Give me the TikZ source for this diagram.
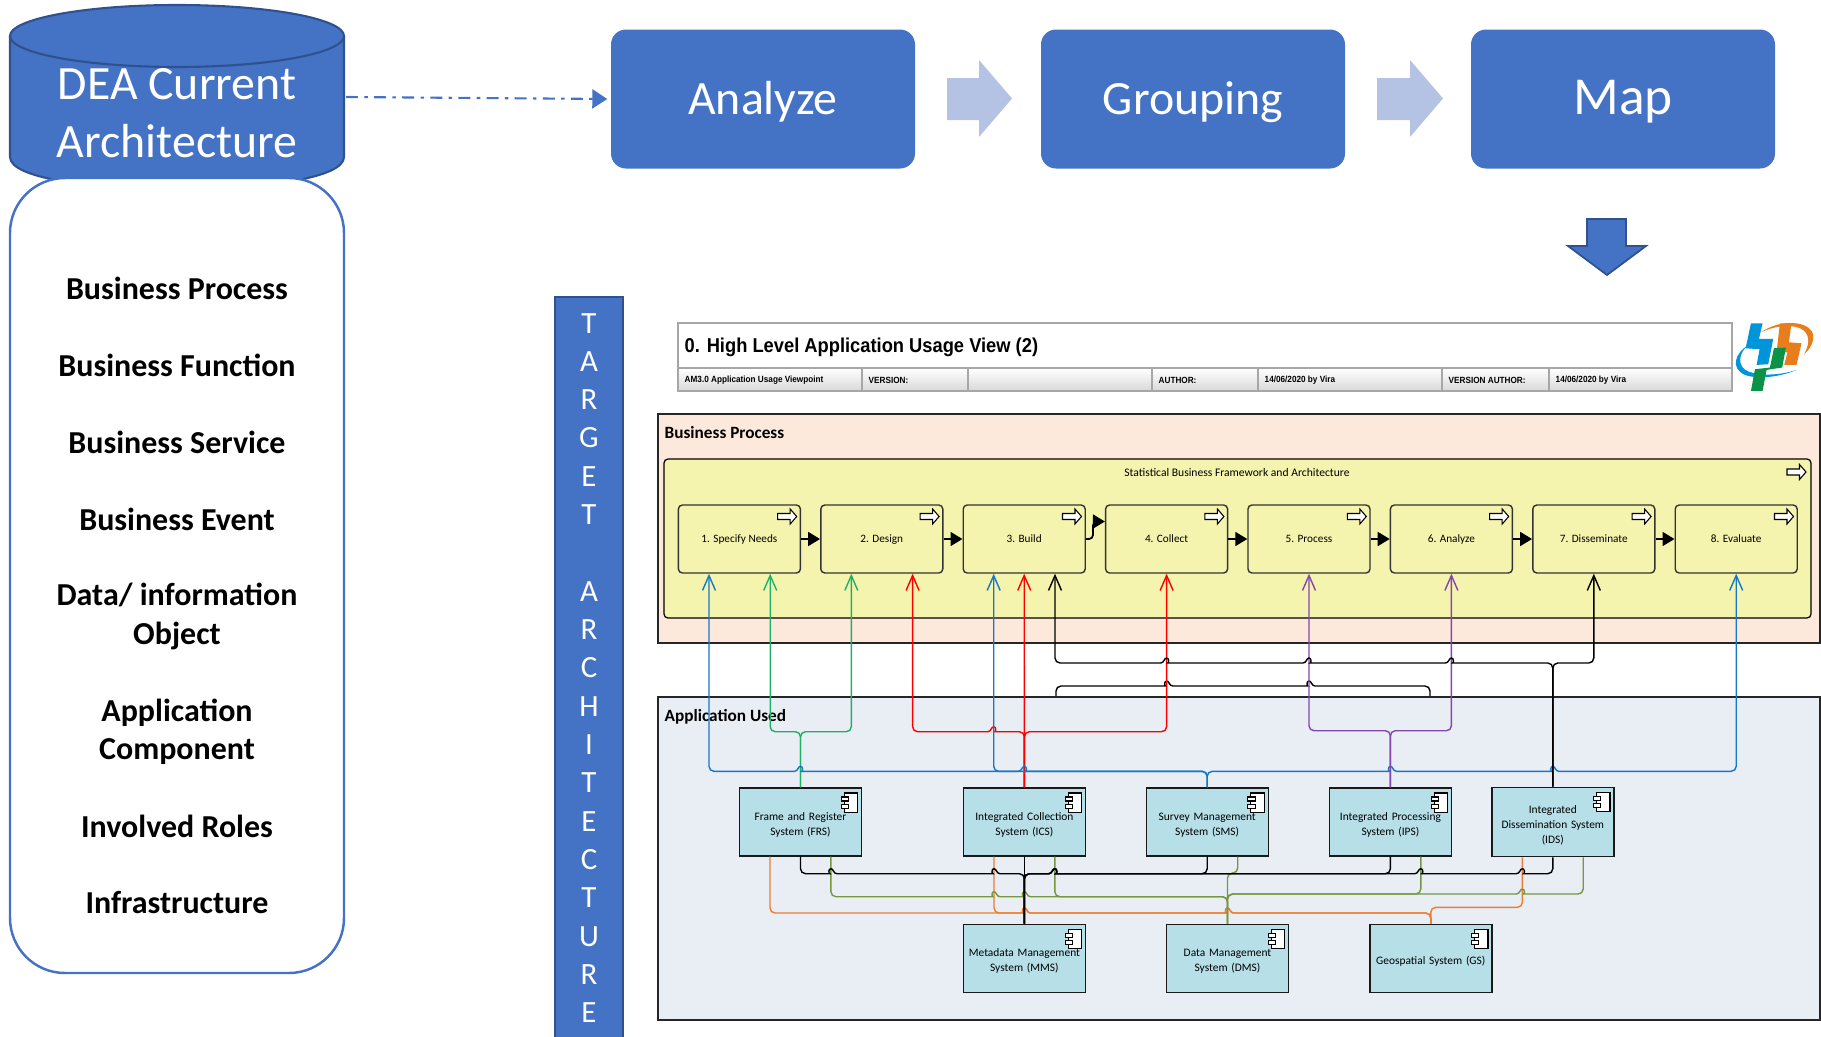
\documentclass[tikz,border=0pt]{standalone}
\usepackage{fontspec}
\setmainfont{Carlito}
\newfontfamily\headfont[FakeStretch=0.914]{Liberation Sans}
\usetikzlibrary{arrows.meta}

\definecolor{officeblue}{HTML}{4472C4}
\definecolor{officedark}{HTML}{2F528F}
\definecolor{softblue}{HTML}{B4C2E4}
\definecolor{bizpeach}{HTML}{FCE9DC}
\definecolor{appgrey}{HTML}{E9EDF4}
\definecolor{stepyellow}{HTML}{F5F4AE}
\definecolor{appcyan}{HTML}{B7DFE8}
\definecolor{headgrey}{HTML}{A6A6A6}
\definecolor{linkblue}{HTML}{1478C8}
\definecolor{linkgreen}{HTML}{1FB068}
\definecolor{linkpurple}{HTML}{8445AE}
\definecolor{linkorange}{HTML}{ED7D31}
\definecolor{linkolive}{HTML}{76963F}
\definecolor{logoblue}{HTML}{0095DA}
\definecolor{logoorange}{HTML}{E87D1E}
\definecolor{logogreen}{HTML}{0A9348}

\newcommand{\fsize}[2]{\fontsize{#1}{#2}\selectfont}
\newcommand{\linehop}[2]{-- (#1-0.06, #2) [sharp corners] .. controls (#1-0.025, #2) and (#1-0.025, #2-0.05) .. (#1, #2-0.05) .. controls (#1+0.025, #2-0.05) and (#1+0.025, #2) .. (#1+0.06, #2) [rounded corners=0.05cm]}
\newcommand{\lefthop}[2]{-- (#1+0.06, #2) [sharp corners] .. controls (#1+0.025, #2) and (#1+0.025, #2-0.05) .. (#1, #2-0.05) .. controls (#1-0.025, #2-0.05) and (#1-0.025, #2) .. (#1-0.06, #2) [rounded corners=0.05cm]}

\tikzset{
    bigbox/.style={draw=none, fill=officeblue, rounded corners=0.15cm, minimum width=3.04cm, minimum height=1.39cm, text=white, text height=0.36cm, text depth=0.05cm, font=\fsize{13.6}{16}},
    softarrow/.style={fill=softblue},
    layertext/.style={align=center, font=\bfseries\fsize{9.1}{10.9}},
    panel/.style={draw=black!85, line width=0.35pt, minimum width=11.62cm},
    paneltext/.style={anchor=west, inner sep=0pt, font=\bfseries\fsize{4.9}{6}},
    frame/.style={draw=black, line width=0.35pt, fill=stepyellow, rounded corners=0.04cm, minimum width=11.47cm, minimum height=1.59cm},
    stepbox/.style={draw=black!80, line width=0.4pt, fill=stepyellow, rounded corners=0.04cm, minimum width=1.22cm, minimum height=0.68cm, text depth=0pt, font=\fsize{3.2}{4.3}},
    appbox/.style={draw=black!90, line width=0.4pt, fill=appcyan, inner xsep=0pt, text width=1.22cm, minimum height=0.68cm, align=center, execute at begin node={\rule{0pt}{4pt}}, font=\fsize{3.25}{4.3}},
    headcell/.style={draw=headgrey, line width=0.5pt, top color=white, bottom color=black!15},
    headtext/.style={anchor=west, inner sep=0pt, font=\headfont\bfseries\fsize{2.55}{3}},
    flow/.style={draw=black, line width=0.5pt, -{Triangle[length=0.12cm, width=0.14cm]}},
    link/.style={line width=0.4pt, rounded corners=0.05cm},
    usedby/.style={link, -{Straight Barb[length=0.15cm, width=0.13cm]}},
    pics/procicon/.style={code={
        \draw[fill=white, line width=0.3pt] (-0.095, -0.03) -- (0.03, -0.03) -- (0.03, -0.075) -- (0.095, 0) -- (0.03, 0.075) -- (0.03, 0.03) -- (-0.095, 0.03) -- cycle;
    }},
    pics/compicon/.style={code={
        \draw[fill=white, line width=0.3pt] (-0.18, 0.057) rectangle (-0.045, 0.25);
        \draw[fill=white, line width=0.3pt] (-0.21, 0.097) rectangle (-0.138, 0.137);
        \draw[fill=white, line width=0.3pt] (-0.21, 0.17) rectangle (-0.138, 0.213);
    }},
}

\begin{document}
\begin{tikzpicture}[y=-1cm]
            \path[use as bounding box] (0, 0) rectangle (18.21, 10.36);
            \clip (0, 0) rectangle (18.21, 10.36);

            \draw[fill=officeblue, draw=officedark, line width=0.6pt] (0.10, 0.36) -- (0.10, 1.57) .. controls (0.10, 2.00) and (3.44, 2.00) .. (3.44, 1.57) -- (3.44, 0.36);
            \draw[fill=officeblue, draw=officedark, line width=0.6pt] (1.77, 0.36) ellipse (1.67 and 0.31);
            \node[text=white, align=center, font=\fsize{13.6}{16.5}] (deatext) at (1.77, 1.135) {DEA Current\\Architecture};
            \coordinate (deaside) at (3.46, 0.97);

            \node[draw=officeblue, line width=0.7pt, fill=white, rounded corners=0.55cm, minimum width=3.34cm, minimum height=7.95cm] (layerlist) at (1.77, 5.755) {};
            \node[layertext] (bizprocess) at (1.77, 2.88) {Business Process};
            \node[layertext] (bizfunction) at (1.77, 3.65) {Business Function};
            \node[layertext] (bizservice) at (1.77, 4.42) {Business Service};
            \node[layertext] (bizevent) at (1.77, 5.19) {Business Event};
            \node[layertext] (dataobject) at (1.77, 6.165) {Data/ information\\Object};
            \node[layertext] (appcomponent) at (1.77, 7.32) {Application\\Component};
            \node[layertext] (roles) at (1.77, 8.26) {Involved Roles};
            \node[layertext] (infra) at (1.77, 9.025) {Infrastructure};

            \node[bigbox] (analyze) at (7.63, 0.99) {Analyze};
            \node[bigbox] (grouping) at (11.93, 0.99) {Grouping};
            \node[bigbox, font=\fsize{15.2}{18}] (map) at (16.23, 0.99) {Map};
            \draw[draw=officeblue, line width=0.6pt, dash pattern=on 3.4pt off 1.8pt on 1pt off 1.8pt, -{Triangle[length=0.15cm, width=0.19cm]}] (deaside) -- ([xshift=-0.03cm]analyze.west);

            \path[softarrow] (9.47, 0.78) -- (9.79, 0.78) -- (9.79, 0.60) -- (10.12, 0.985) -- (9.79, 1.37) -- (9.79, 1.20) -- (9.47, 1.20) -- cycle;
            \path[softarrow] (13.77, 0.78) -- (14.10, 0.78) -- (14.10, 0.60) -- (14.43, 0.985) -- (14.10, 1.37) -- (14.10, 1.20) -- (13.77, 1.20) -- cycle;
            \draw[fill=officeblue, draw=officedark, line width=0.5pt] (15.87, 2.19) -- (16.26, 2.19) -- (16.26, 2.46) -- (16.46, 2.46) -- (16.07, 2.75) -- (15.68, 2.46) -- (15.87, 2.46) -- cycle;

            \draw[fill=officeblue, draw=officedark, line width=0.8pt] (5.55, 10.50) -- (5.55, 2.97) -- (6.23, 2.97) -- (6.23, 10.50);
            \node[anchor=north, text=white, align=center, inner sep=0pt, font=\fsize{8.8}{10.9}] (targettext) at (5.89, 3.125) {T\\A\\R\\G\\E\\T\\~\\A\\R\\C\\H\\I\\T\\E\\C\\T\\U\\R\\E};

            \draw[draw=headgrey, line width=0.5pt, fill=white] (6.78, 3.23) rectangle (17.32, 3.68);
            \node[anchor=west, inner sep=0pt, font=\headfont\bfseries\fsize{5.7}{7}] (headtitle) at (6.84, 3.47) {0. High Level Application Usage View (2)};
            \path[headcell] (6.78, 3.68) rectangle (8.62, 3.91);
            \path[headcell] (8.62, 3.68) rectangle (9.68, 3.91);
            \path[headcell] (9.68, 3.68) rectangle (11.52, 3.91);
            \path[headcell] (11.52, 3.68) rectangle (12.58, 3.91);
            \path[headcell] (12.58, 3.68) rectangle (14.42, 3.91);
            \path[headcell] (14.42, 3.68) rectangle (15.49, 3.91);
            \path[headcell] (15.49, 3.68) rectangle (17.32, 3.91);
            \node[headtext] (headview) at (6.84, 3.80) {AM3.0 Application Usage Viewpoint};
            \node[headtext] (headversion) at (8.68, 3.80) {VERSION:};
            \node[headtext] (headauthor) at (11.58, 3.80) {AUTHOR:};
            \node[headtext] (headdate) at (12.64, 3.80) {14/06/2020 by Vira};
            \node[headtext] (headvauthor) at (14.48, 3.80) {VERSION AUTHOR:};
            \node[headtext] (headvdate) at (15.55, 3.80) {14/06/2020 by Vira};

            \begin{scope}[shift={(17.25, 3.15)}, x=0.00333cm, y=-0.00333cm]
                \fill[logoblue] (70, 90) .. controls (30, 115) and (15, 160) .. (60, 180) .. controls (100, 195) and (170, 185) .. (215, 165) .. controls (170, 180) and (110, 185) .. (70, 170) .. controls (35, 155) and (40, 115) .. (70, 90) -- cycle;
                \fill[logoorange] (108, 52) .. controls (160, 15) and (240, 15) .. (262, 50) .. controls (272, 75) and (258, 100) .. (238, 118) .. controls (252, 90) and (258, 65) .. (235, 45) .. controls (205, 25) and (150, 32) .. (108, 52) -- cycle;
                \fill[logoblue] (78, 25) -- (113, 25) -- (102, 72) -- (145, 72) -- (130, 148) -- (95, 150) -- (104, 103) -- (62, 100) -- cycle;
                \fill[logoorange] (165, 25) -- (200, 25) -- (192, 82) -- (230, 85) -- (215, 150) -- (178, 150) -- (188, 112) -- (155, 112) -- cycle;
                \fill[logogreen] (147, 100) -- (183, 98) -- (172, 158) -- (125, 165) -- (113, 228) -- (78, 228) -- (90, 163) -- (135, 158) -- cycle;
            \end{scope}

            \coordinate (hopleft) at (10.56, 6.97);
            \coordinate (hopright) at (14.30, 6.97);
            \draw[link] (hopleft) -- (10.56, 6.86) \linehop{11.667}{6.86} \linehop{13.09}{6.86} -- (14.30, 6.86) -- (hopright);

            \node[panel, fill=bizpeach, minimum height=2.29cm] (bizpanel) at (12.39, 5.285) {};
            \node[panel, fill=appgrey, minimum height=3.23cm] (apppanel) at (12.39, 8.585) {};
            \node[paneltext] (biztitle) at (6.64, 4.33) {Business Process};
            \node[paneltext] (apptitle) at (6.64, 7.17) {Application Used};

            \node[frame] (sbfa) at (12.375, 5.385) {};
            \node[font=\fsize{3.3}{4.3}] (sbfatitle) at (12.37, 4.725) {Statistical Business Framework and Architecture};
            \pic at (17.965, 4.72) {procicon};

            \node[stepbox] (specify) at (7.394, 5.39) {1. Specify Needs};
            \node[stepbox] (design) at (8.818, 5.39) {2. Design};
            \node[stepbox] (build) at (10.242, 5.39) {3. Build};
            \node[stepbox] (collect) at (11.666, 5.39) {4. Collect};
            \node[stepbox] (process) at (13.09, 5.39) {5. Process};
            \node[stepbox] (analyse) at (14.514, 5.39) {6. Analyze};
            \node[stepbox] (disseminate) at (15.938, 5.39) {7. Disseminate};
            \node[stepbox] (evaluate) at (17.362, 5.39) {8. Evaluate};
            \pic at (7.872, 5.165) {procicon};
            \pic at (9.296, 5.165) {procicon};
            \pic at (10.72, 5.165) {procicon};
            \pic at (12.144, 5.165) {procicon};
            \pic at (13.568, 5.165) {procicon};
            \pic at (14.992, 5.165) {procicon};
            \pic at (16.416, 5.165) {procicon};
            \pic at (17.84, 5.165) {procicon};

            \draw[flow] (specify) -- (design);
            \draw[flow] (design) -- (build);
            \draw[flow, rounded corners=0.04cm] (build.east) -- (10.93, 5.39) -- (10.93, 5.215) -- (collect.west |- 0, 5.215);
            \draw[flow] (collect) -- (process);
            \draw[flow] (process) -- (analyse);
            \draw[flow] (analyse) -- (disseminate);
            \draw[flow] (disseminate) -- (evaluate);

            \node[appbox] (frs) at (8.005, 8.22) {Frame and Register\\System (FRS)};
            \node[appbox] (ics) at (10.244, 8.22) {Integrated Collection\\System (ICS)};
            \node[appbox] (sms) at (12.072, 8.22) {Survey Management\\System (SMS)};
            \node[appbox] (ips) at (13.904, 8.22) {Integrated Processing\\System (IPS)};
            \node[appbox] (ids) at (15.528, 8.22) {Integrated\\Dissemination System\\(IDS)};
            \node[appbox] (mms) at (10.244, 9.583) {Metadata Management\\System (MMS)};
            \node[appbox] (dms) at (12.275, 9.583) {Data Management\\System (DMS)};
            \node[appbox] (gs) at (14.308, 9.583) {Geospatial System (GS)};
            \pic at (frs.north east) {compicon};
            \pic at (ics.north east) {compicon};
            \pic at (sms.north east) {compicon};
            \pic at (ips.north east) {compicon};
            \pic at (ids.north east) {compicon};
            \pic at (mms.north east) {compicon};
            \pic at (dms.north east) {compicon};
            \pic at (gs.north east) {compicon};

            \draw[usedby, linkgreen] (frs.north) -- (8.005, 7.317) -- (7.702, 7.317) -- ([xshift=0.308cm]specify.south);
            \draw[usedby, linkgreen] (frs.north) -- (8.005, 7.317) -- (8.513, 7.317) -- ([xshift=-0.305cm]design.south);
            \draw[usedby, red] (ics.north) -- (10.244, 7.317) \lefthop{9.937}{7.317} -- (9.126, 7.317) -- ([xshift=0.308cm]design.south);
            \draw[usedby, red] (ics.north) -- (build.south);
            \draw[usedby, red] (ics.north) -- (10.244, 7.317) -- (11.666, 7.317) -- (collect.south);
            \draw[usedby, linkblue] (sms.north) -- (12.072, 7.713) \lefthop{10.244}{7.713} \lefthop{8.005}{7.713} -- (7.09, 7.713) -- ([xshift=-0.304cm]specify.south);
            \draw[usedby, linkblue] (sms.north) -- (12.072, 7.713) -- (9.937, 7.713) -- ([xshift=-0.305cm]build.south);
            \draw[usedby, linkblue] (sms.north) -- (12.072, 7.713) \linehop{13.904}{7.713} \linehop{15.528}{7.713} -- (17.362, 7.713) -- (evaluate.south);
            \draw[usedby, linkpurple] (ips.north) -- (13.904, 7.307) -- (13.09, 7.307) -- (process.south);
            \draw[usedby, linkpurple] (ips.north) -- (13.904, 7.307) -- (14.514, 7.307) -- (analyse.south);
            \draw[usedby, black] (ids.north) -- (15.528, 6.63) \lefthop{14.514}{6.63} \lefthop{13.09}{6.63} \lefthop{11.666}{6.63} -- (10.55, 6.63) -- ([xshift=0.308cm]build.south);
            \draw[usedby, black] (ids.north) -- (15.528, 6.63) -- (15.938, 6.63) -- (disseminate.south);

            \draw[link, linkorange] ([xshift=-0.305cm]frs.south) -- (7.70, 9.13) \linehop{10.244}{9.13} \linehop{12.275}{9.13} -- (14.308, 9.13) -- (gs.north);
            \draw[link, linkorange] ([xshift=-0.304cm]ics.south) -- (9.94, 9.13) \linehop{10.244}{9.13} \linehop{12.275}{9.13} -- (14.308, 9.13) -- (gs.north);
            \draw[link, linkorange] ([xshift=-0.304cm]ids.south) -- (15.224, 9.073) -- (14.308, 9.073) -- (gs.north);
            \draw[link, linkolive] ([xshift=0.305cm]sms.south) -- (12.377, 8.73) -- (12.275, 8.73) -- (dms.north);
            \draw[link, linkolive] ([xshift=0.304cm]frs.south) -- (8.309, 8.967) \linehop{9.94}{8.967} \linehop{10.244}{8.967} -- (12.275, 8.967) -- (dms.north);
            \draw[link, linkolive] ([xshift=0.304cm]ics.south) -- (10.548, 8.967) -- (12.275, 8.967) -- (dms.north);
            \draw[link, linkolive] ([xshift=0.304cm]ids.south) -- (15.832, 8.94) \lefthop{15.224}{8.94} -- (12.275, 8.94) -- (dms.north);
            \draw[link, linkolive] ([xshift=0.304cm]ips.south) -- (14.208, 8.94) -- (12.275, 8.94) -- (dms.north);
            \draw[link, black] (frs.south) -- (8.005, 8.737) \linehop{8.309}{8.737} \linehop{9.94}{8.737} -- (10.244, 8.737) -- (mms.north);
            \draw[link, black] (ics.south) -- (mms.north);
            \draw[link, black] (sms.south) -- (12.072, 8.737) \lefthop{10.548}{8.737} -- (10.244, 8.737) -- (mms.north);
            \draw[link, black] (ips.south) -- (13.904, 8.737) \lefthop{10.548}{8.737} -- (10.244, 8.737) -- (mms.north);
            \draw[link, black] (ids.south) -- (15.528, 8.737) \lefthop{15.224}{8.737} \lefthop{14.208}{8.737} -- (13.904, 8.737) \lefthop{10.548}{8.737} -- (10.244, 8.737) -- (mms.north);
        \end{tikzpicture}
\end{document}
